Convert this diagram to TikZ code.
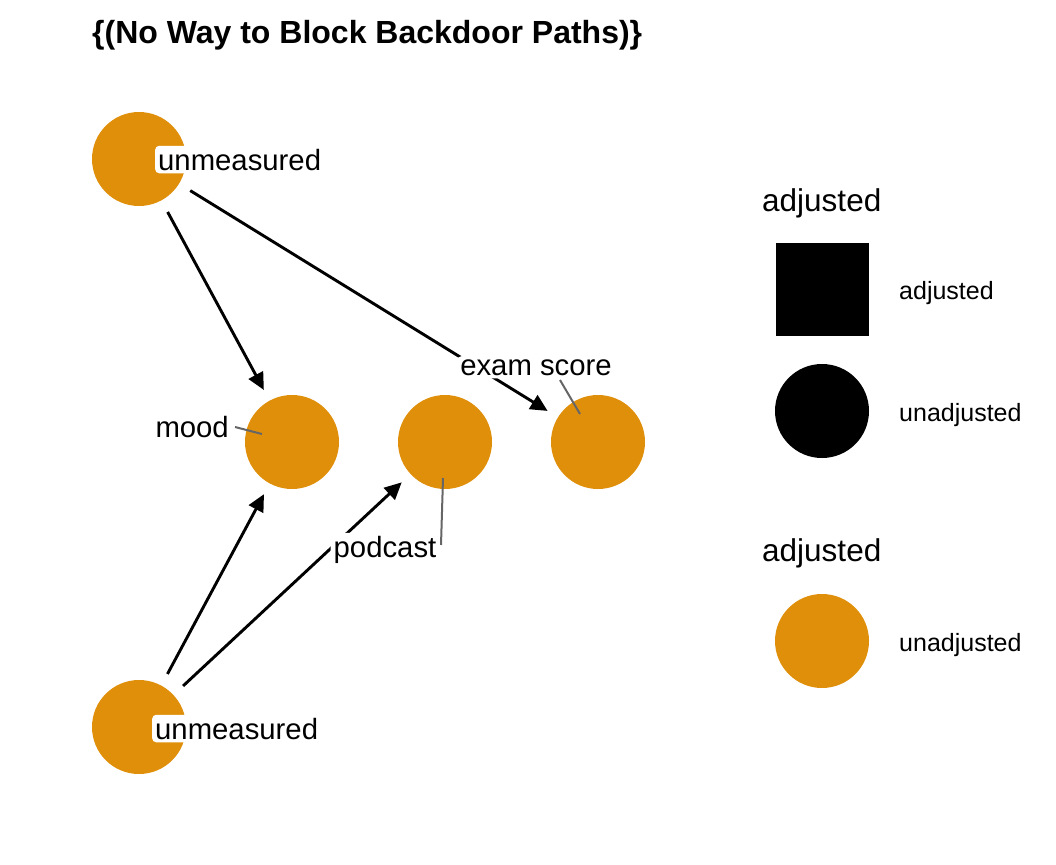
\documentclass[tikz,border=0pt]{standalone}
\usepackage{fontspec}
\setmainfont{Liberation Sans}
\usetikzlibrary{arrows.meta}
\definecolor{dagorange}{RGB}{224,143,11}
\definecolor{repelgrey}{RGB}{102,102,102}
\begin{document}
\begin{tikzpicture}[x=1pt,y=-1pt,
  dagnode/.style={circle,fill=dagorange,draw=none,minimum size=94pt,inner sep=0pt},
  edge/.style={line width=2.9pt,-{Triangle[length=17pt,width=16pt]},shorten <=13pt,shorten >=12pt},
  lbl/.style={font=\fontsize{29.3}{34}\selectfont,anchor=base,inner sep=0pt},
  boxlbl/.style={lbl,fill=white,rounded corners=4pt,inner xsep=3pt,inner ysep=3pt},
  repel/.style={repelgrey,line width=2pt},
  keyhead/.style={font=\fontsize{31.5}{36}\selectfont,anchor=base west,inner sep=0pt},
  keyitem/.style={font=\fontsize{25}{30}\selectfont,anchor=base west,inner sep=0pt}]
\useasboundingbox (0,0) rectangle (1056,864);

% title
\node[font=\bfseries\fontsize{32}{38}\selectfont,anchor=base west,inner sep=0pt] (title) at (92,44) {\{(No Way to Block Backdoor Paths)\}};

% variables
\node[dagnode] (u1) at (139,159) {};
\node[dagnode] (u2) at (139,727) {};
\node[dagnode] (mood) at (292,442) {};
\node[dagnode] (pod) at (445,442) {};
\node[dagnode] (exam) at (598,442) {};

% causal arrows
\draw[edge] (u1) -- (mood);
\draw[edge] (u1) -- (exam);
\draw[edge] (u2) -- (mood);
\draw[edge] (u2) -- (pod);

% labels with leader segments
\coordinate (moodtip) at (262,434);
\coordinate (moodfoot) at (235,427);
\coordinate (podtip) at (443,478);
\coordinate (podfoot) at (441,545);
\coordinate (examtip) at (580,414);
\coordinate (examfoot) at (560,380);
\node[lbl,anchor=base east] (moodlbl) at (229,437) {mood};
\draw[repel] (moodfoot) -- (moodtip);
\node[boxlbl] (podlbl) at (385,557) {podcast};
\draw[repel] (podfoot) -- (podtip);
\node[boxlbl] (examlbl) at (536,375) {exam score};
\draw[repel] (examfoot) -- (examtip);

% labels on the unmeasured nodes
\node[boxlbl,anchor=base west] (u1lbl) at (155,170) {unmeasured};
\node[boxlbl,anchor=base west] (u2lbl) at (152,739) {unmeasured};

% legend
\node[keyhead] (kh1) at (762,211) {adjusted};
\node[fill=black,minimum size=93pt,inner sep=0pt] (ksq) at (822.5,289.5) {};
\node[keyitem] (ki1) at (899,299) {adjusted};
\node[circle,fill=black,minimum size=94pt,inner sep=0pt] (kci) at (822,411) {};
\node[keyitem] (ki2) at (899,421) {unadjusted};
\node[keyhead] (kh2) at (762,561) {adjusted};
\node[circle,fill=dagorange,minimum size=94pt,inner sep=0pt] (kco) at (822,641) {};
\node[keyitem] (ki3) at (899,651) {unadjusted};
\end{tikzpicture}
\end{document}
